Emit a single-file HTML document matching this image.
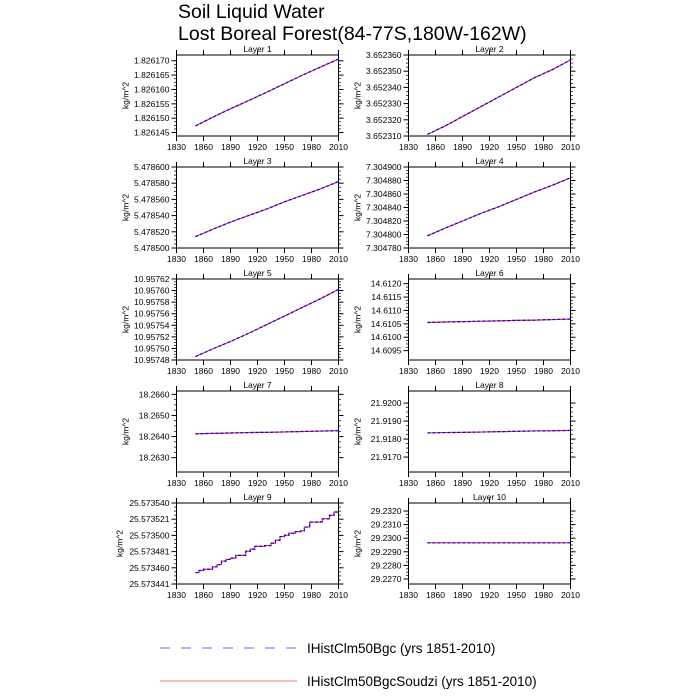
<!DOCTYPE html>
<html><head><meta charset="utf-8"><style>
body{margin:0;background:#fff}
svg{display:block;font-family:"Liberation Sans",sans-serif}
</style></head><body>
<svg id="c" width="700" height="700" viewBox="0 0 700 700">
<text x="178" y="18" font-size="19.5">Soil Liquid Water</text>
<text x="178" y="40" font-size="19.5">Lost Boreal Forest(84-77S,180W-162W)</text>
<line x1="160" y1="648" x2="297" y2="648" stroke="#6666ff" stroke-width="1" stroke-dasharray="10,11"/>
<text x="307" y="653" font-size="13.5">IHistClm50Bgc (yrs 1851-2010)</text>
<line x1="160" y1="681" x2="297" y2="681" stroke="#ff7777" stroke-width="1"/>
<text x="307" y="686" font-size="13.5">IHistClm50BgcSoudzi (yrs 1851-2010)</text>
</svg>
<script>
const xTicks=[1830,1860,1890,1920,1950,1980,2010];
const layerNames=["Layer 1","Layer 2","Layer 3","Layer 4","Layer 5","Layer 6","Layer 7","Layer 8","Layer 9","Layer 10"];
const yMins=[1.8261438,3.652310,5.478500,7.304780,10.95748,14.60915,18.26232,21.91617,25.573441,29.22663];
const yMaxs=[1.826172,3.652360,5.478600,7.304900,10.95762,14.612175,18.26616,21.92067,25.573540,29.23259];
const yTickVals=[
[1.826145,1.826150,1.826155,1.826160,1.826165,1.826170],
[3.652310,3.652320,3.652330,3.652340,3.652350,3.652360],
[5.478500,5.478520,5.478540,5.478560,5.478580,5.478600],
[7.304780,7.304800,7.304820,7.304840,7.304860,7.304880,7.304900],
[10.95748,10.95750,10.95752,10.95754,10.95756,10.95758,10.95760,10.95762],
[14.6095,14.6100,14.6105,14.6110,14.6115,14.6120],
[18.2630,18.2640,18.2650,18.2660],
[21.9170,21.9180,21.9190,21.9200],
[25.573441,25.5734608,25.5734806,25.5735004,25.5735202,25.573540],
[29.2270,29.2280,29.2290,29.2300,29.2310,29.2320]];
const yTickLabels=[
["1.826145","1.826150","1.826155","1.826160","1.826165","1.826170"],
["3.652310","3.652320","3.652330","3.652340","3.652350","3.652360"],
["5.478500","5.478520","5.478540","5.478560","5.478580","5.478600"],
["7.304780","7.304800","7.304820","7.304840","7.304860","7.304880","7.304900"],
["10.95748","10.95750","10.95752","10.95754","10.95756","10.95758","10.95760","10.95762"],
["14.6095","14.6100","14.6105","14.6110","14.6115","14.6120"],
["18.2630","18.2640","18.2650","18.2660"],
["21.9170","21.9180","21.9190","21.9200"],
["25.573441","25.573460","25.573481","25.573500","25.573521","25.573540"],
["29.2270","29.2280","29.2290","29.2300","29.2310","29.2320"]];
const years=[1851,1870,1890,1910,1930,1950,1970,1990,2010];
const series=[
[1.8261473,1.8261503,1.8261533,1.8261561,1.8261590,1.8261620,1.8261650,1.8261678,1.8261706],
[3.652311,3.652316,3.652322,3.652328,3.652334,3.652340,3.652346,3.652351,3.652357],
[5.478514,5.478523,5.478532,5.478540,5.478548,5.478557,5.478565,5.478573,5.478582],
[7.304798,7.304809,7.304820,7.304831,7.304841,7.304852,7.304863,7.304873,7.304884],
[10.957486,10.957499,10.957512,10.957526,10.957541,10.957556,10.957571,10.957586,10.957602],
[14.61055,14.61057,14.61058,14.61060,14.61061,14.61063,14.61064,14.61066,14.61068],
[18.26413,18.26415,18.26417,18.26419,18.26420,18.26422,18.26424,18.26426,18.26428],
[21.91834,21.91836,21.91837,21.91839,21.91841,21.91843,21.91845,21.91846,21.91848],
null,
[29.22966,29.22966,29.22966,29.22966,29.22966,29.22966,29.22966,29.22966,29.22966]];
const stepYears=[1851,1855,1860,1866,1870,1875,1880,1885,1890,1896,1907,1912,1917,1928,1935,1940,1945,1950,1955,1962,1968,1972,1978,1990,1992,2000,2005,2010];
const stepVals=[25.573455,25.5734575,25.573459,25.573459,25.573462,25.5734646,25.573469,25.573471,25.5734726,25.573476,25.573481,25.5734836,25.573487,25.573488,25.573491,25.5734945,25.573499,25.5735006,25.573503,25.573505,25.573506,25.5735106,25.5735166,25.573517,25.5735207,25.573525,25.573529,25.573529];
const svg=document.getElementById('c');
const NS='http://www.w3.org/2000/svg';
function mk(t,a){const e=document.createElementNS(NS,t);for(const k in a)e.setAttribute(k,a[k]);svg.appendChild(e);return e;}
const W=162,H=81;
for(let i=0;i<10;i++){
  const L=(i%2===0)?176.5:408.5, T=55+Math.floor(i/2)*112;
  const xs=v=>L+(v-1830)/(2010-1830)*W;
  const ys=v=>T+H-(v-yMins[i])/(yMaxs[i]-yMins[i])*H;
  const box=mk('rect',{x:L,y:T,width:W,height:H,fill:'none',stroke:'#000','stroke-width':1});
  
  
  const tt=mk('text',{x:L+W/2,y:T-3,'font-size':8.5,'text-anchor':'middle'});tt.textContent=layerNames[i];
  
  
  const yl=mk('text',{x:0,y:0,'font-size':8.5,'text-anchor':'middle',transform:`translate(${L-(i===8?54:48)},${T+H/2}) rotate(-90)`});yl.textContent='kg/m^2';
  
  
  xTicks.forEach(v=>{const x=xs(v);
    mk('line',{x1:x,y1:T,x2:x,y2:T-5,stroke:'#000'});mk('line',{x1:x,y1:T+H,x2:x,y2:T+H+5,stroke:'#000'});
    const t=mk('text',{x:x,y:T+H+14,'font-size':8.5,'text-anchor':'middle'});t.textContent=v;
    
    });
  const tv=yTickVals[i];
  tv.forEach((v,j)=>{const y=ys(v);
    mk('line',{x1:L,y1:y,x2:L-5,y2:y,stroke:'#000'});mk('line',{x1:L+W,y1:y,x2:L+W+5,y2:y,stroke:'#000'});
    const t=mk('text',{x:L-7,y:y+3,'font-size':8.5,'text-anchor':'end'});t.textContent=yTickLabels[i][j];
    
    
    if(j<tv.length-1){const st=(tv[j+1]-v)/4;for(let m=1;m<4;m++){const yy=ys(v+st*m);
      mk('line',{x1:L,y1:yy,x2:L-2.5,y2:yy,stroke:'#000','stroke-width':0.7});mk('line',{x1:L+W,y1:yy,x2:L+W+2.5,y2:yy,stroke:'#000','stroke-width':0.7});}}
  });
  let pts;
  if(series[i]){pts=years.map((y,k)=>xs(y).toFixed(2)+','+ys(series[i][k]).toFixed(2)).join(' ');}
  else{const a=[];stepYears.forEach((y,k)=>{if(k>0)a.push(xs(y).toFixed(2)+','+ys(stepVals[k-1]).toFixed(2));a.push(xs(y).toFixed(2)+','+ys(stepVals[k]).toFixed(2));});pts=a.join(' ');}
  const r=mk('polyline',{points:pts,fill:'none',stroke:'#ff3333','stroke-width':1.2});
  
  
  const b=mk('polyline',{points:pts,fill:'none',stroke:'#0000ff','stroke-width':1.2,'stroke-dasharray':'3,2'});
  
  
}
</script>
</body></html>
